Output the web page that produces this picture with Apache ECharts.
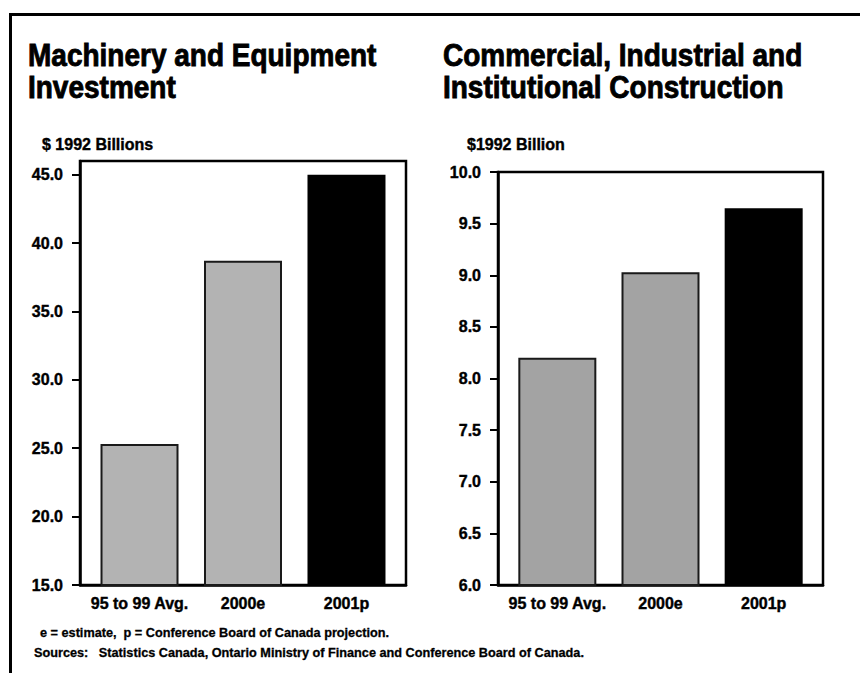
<!DOCTYPE html>
<html>
<head>
<meta charset="utf-8">
<script src="https://cdn.jsdelivr.net/npm/echarts@6/dist/echarts.min.js"></script>
<style>
  html, body { margin: 0; padding: 0; background: #fff; }
  #chart { width: 860px; height: 673px; }
</style>
</head>
<body>
<div id="chart"></div>
<script>
// Categories shared by both panels
const categories = ['95 to 99 Avg.', '2000e', '2001p'];

// Machinery and Equipment Investment, $1992 billions
const machineryValues = [25.3, 38.7, 45.0];
const machineryTicks = [15, 20, 25, 30, 35, 40, 45];

// Commercial, Industrial and Institutional Construction, $1992 billion
const constructionValues = [8.2, 9.03, 9.65];
const constructionTicks = [6.0, 6.5, 7.0, 7.5, 8.0, 8.5, 9.0, 9.5, 10.0];

const FONT = '"Liberation Sans", Arial, sans-serif';

const chart = echarts.init(document.getElementById('chart'), null, { renderer: 'svg' });

function barData(values, grey) {
  return values.map((v, i) => ({
    value: [i, v],
    itemStyle: {
      color: i === values.length - 1 ? '#000000' : grey,
      borderColor: i === values.length - 1 ? '#000000' : '#1a1a1a'
    }
  }));
}

// Shared style for the small bold labels (slightly heavier via a thin outline)
const labelText = {
  color: '#000',
  fontFamily: FONT,
  fontWeight: 'bold',
  fontSize: 16,
  textBorderColor: '#000',
  textBorderWidth: 0.4
};

function xAxisFor(gridIndex) {
  return {
    type: 'value',
    gridIndex,
    min: -0.575,
    max: 2.575,
    axisLine: { show: true, onZero: false, lineStyle: { color: '#000', width: 2.5 } },
    axisTick: { show: false },
    splitLine: { show: false },
    axisLabel: Object.assign({
      customValues: [0, 1, 2],
      formatter: v => categories[Math.round(v)],
      margin: 10
    }, labelText)
  };
}

function yAxisFor(gridIndex, min, max, ticks) {
  return {
    type: 'value',
    gridIndex,
    min,
    max,
    axisLine: { show: true, onZero: false, lineStyle: { color: '#000', width: 2.5 } },
    axisTick: { show: true, length: 8, customValues: ticks, lineStyle: { color: '#000', width: 2 } },
    splitLine: { show: false },
    axisLabel: Object.assign({
      customValues: ticks,
      formatter: v => v.toFixed(1),
      margin: 17
    }, labelText)
  };
}

// Panel headings: bold, slightly stretched vertically for a condensed look
function heading(text, x) {
  return {
    type: 'text',
    x,
    y: 38,
    scaleY: 1.1,
    silent: true,
    style: {
      text,
      fill: '#000',
      stroke: '#000',
      lineWidth: 0.8,
      font: 'bold 28px "Liberation Sans", Arial, sans-serif',
      lineHeight: 30,
      verticalAlign: 'top'
    }
  };
}

const unitStyle = Object.assign({}, labelText);
const noteStyle = Object.assign({}, labelText, { fontSize: 12.7, textBorderWidth: 0.3 });

chart.setOption({
  backgroundColor: '#ffffff',
  animation: false,
  title: [
    { text: '$ 1992 Billions', left: 42, top: 136, padding: 0, textStyle: unitStyle },
    { text: '$1992 Billion', left: 467, top: 136, padding: 0, textStyle: unitStyle },
    { text: 'e = estimate,  p = Conference Board of Canada projection.', left: 40, top: 626, padding: 0, textStyle: noteStyle },
    { text: 'Sources:   Statistics Canada, Ontario Ministry of Finance and Conference Board of Canada.', left: 34, top: 646, padding: 0, textStyle: noteStyle }
  ],
  graphic: [
    {
      type: 'polyline',
      shape: { points: [[10.5, 673], [10.5, 14.5], [860, 14.5]] },
      style: { stroke: '#000', lineWidth: 3, fill: null },
      silent: true
    },
    heading('Machinery and Equipment\nInvestment', 28),
    heading('Commercial, Industrial and\nInstitutional Construction', 443)
  ],
  grid: [
    { left: 80, right: 454, top: 161, bottom: 88, show: true, borderColor: '#000', borderWidth: 2.5, backgroundColor: 'transparent' },
    { left: 498, right: 37, top: 172, bottom: 88, show: true, borderColor: '#000', borderWidth: 2.5, backgroundColor: 'transparent' }
  ],
  xAxis: [xAxisFor(0), xAxisFor(1)],
  yAxis: [
    yAxisFor(0, 15, 46, machineryTicks),
    yAxisFor(1, 6, 10, constructionTicks)
  ],
  series: [
    {
      type: 'bar',
      name: 'Machinery and Equipment Investment',
      xAxisIndex: 0,
      yAxisIndex: 0,
      barWidth: 78,
      itemStyle: { borderWidth: 2 },
      data: barData(machineryValues, '#b3b3b3')
    },
    {
      type: 'bar',
      name: 'Commercial, Industrial and Institutional Construction',
      xAxisIndex: 1,
      yAxisIndex: 1,
      barWidth: 78,
      itemStyle: { borderWidth: 2 },
      data: barData(constructionValues, '#a3a3a3')
    }
  ]
});
</script>
</body>
</html>
